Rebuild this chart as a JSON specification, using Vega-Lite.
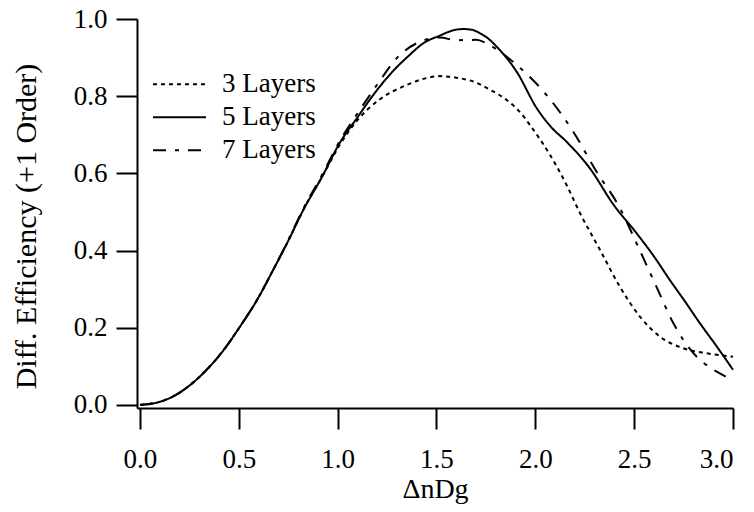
{
  "$schema": "https://vega.github.io/schema/vega-lite/v6.json",
  "width": 596,
  "height": 389,
  "autosize": {"type": "none"},
  "padding": {"left": 137, "top": 19, "right": 21, "bottom": 104},
  "background": "white",
  "config": {
    "view": {"stroke": null},
    "font": "Liberation Serif, Times New Roman, Times, DejaVu Serif, serif",
    "axis": {
      "grid": false,
      "domainColor": "black",
      "domainWidth": 2,
      "tickColor": "black",
      "tickWidth": 2,
      "tickSize": 21,
      "labelColor": "black",
      "labelFont": "Liberation Serif, Times New Roman, Times, DejaVu Serif, serif",
      "labelFontSize": 27,
      "titleColor": "black",
      "titleFont": "Liberation Serif, Times New Roman, Times, DejaVu Serif, serif",
      "titleFontWeight": "normal"
    }
  },
  "data": {
    "values": [
      {"s": "3 Layers", "x": 0, "y": 0},
      {"s": "3 Layers", "x": 0.1, "y": 0.008},
      {"s": "3 Layers", "x": 0.168, "y": 0.022},
      {"s": "3 Layers", "x": 0.25, "y": 0.05},
      {"s": "3 Layers", "x": 0.337, "y": 0.091},
      {"s": "3 Layers", "x": 0.42, "y": 0.14},
      {"s": "3 Layers", "x": 0.506, "y": 0.203},
      {"s": "3 Layers", "x": 0.59, "y": 0.27},
      {"s": "3 Layers", "x": 0.674, "y": 0.35},
      {"s": "3 Layers", "x": 0.75, "y": 0.425},
      {"s": "3 Layers", "x": 0.826, "y": 0.505},
      {"s": "3 Layers", "x": 0.92, "y": 0.59},
      {"s": "3 Layers", "x": 1.012, "y": 0.675},
      {"s": "3 Layers", "x": 1.1, "y": 0.738},
      {"s": "3 Layers", "x": 1.214, "y": 0.792},
      {"s": "3 Layers", "x": 1.349, "y": 0.829},
      {"s": "3 Layers", "x": 1.45, "y": 0.847},
      {"s": "3 Layers", "x": 1.517, "y": 0.852},
      {"s": "3 Layers", "x": 1.6, "y": 0.848},
      {"s": "3 Layers", "x": 1.686, "y": 0.838},
      {"s": "3 Layers", "x": 1.77, "y": 0.817},
      {"s": "3 Layers", "x": 1.855, "y": 0.79},
      {"s": "3 Layers", "x": 1.92, "y": 0.76},
      {"s": "3 Layers", "x": 1.973, "y": 0.725},
      {"s": "3 Layers", "x": 2.074, "y": 0.648},
      {"s": "3 Layers", "x": 2.158, "y": 0.57},
      {"s": "3 Layers", "x": 2.226, "y": 0.497},
      {"s": "3 Layers", "x": 2.327, "y": 0.402},
      {"s": "3 Layers", "x": 2.428, "y": 0.306},
      {"s": "3 Layers", "x": 2.529, "y": 0.229},
      {"s": "3 Layers", "x": 2.63, "y": 0.177},
      {"s": "3 Layers", "x": 2.748, "y": 0.147},
      {"s": "3 Layers", "x": 2.866, "y": 0.134},
      {"s": "3 Layers", "x": 3.0, "y": 0.125},

      {"s": "5 Layers", "x": 0, "y": 0},
      {"s": "5 Layers", "x": 0.1, "y": 0.008},
      {"s": "5 Layers", "x": 0.168, "y": 0.022},
      {"s": "5 Layers", "x": 0.25, "y": 0.05},
      {"s": "5 Layers", "x": 0.337, "y": 0.091},
      {"s": "5 Layers", "x": 0.42, "y": 0.14},
      {"s": "5 Layers", "x": 0.506, "y": 0.203},
      {"s": "5 Layers", "x": 0.59, "y": 0.27},
      {"s": "5 Layers", "x": 0.674, "y": 0.35},
      {"s": "5 Layers", "x": 0.75, "y": 0.425},
      {"s": "5 Layers", "x": 0.826, "y": 0.505},
      {"s": "5 Layers", "x": 0.92, "y": 0.59},
      {"s": "5 Layers", "x": 1.012, "y": 0.68},
      {"s": "5 Layers", "x": 1.1, "y": 0.745},
      {"s": "5 Layers", "x": 1.18, "y": 0.803},
      {"s": "5 Layers", "x": 1.28, "y": 0.865},
      {"s": "5 Layers", "x": 1.36, "y": 0.905},
      {"s": "5 Layers", "x": 1.433, "y": 0.937},
      {"s": "5 Layers", "x": 1.517, "y": 0.957},
      {"s": "5 Layers", "x": 1.58, "y": 0.97},
      {"s": "5 Layers", "x": 1.635, "y": 0.974},
      {"s": "5 Layers", "x": 1.68, "y": 0.972},
      {"s": "5 Layers", "x": 1.72, "y": 0.963},
      {"s": "5 Layers", "x": 1.76, "y": 0.95},
      {"s": "5 Layers", "x": 1.805, "y": 0.928},
      {"s": "5 Layers", "x": 1.906, "y": 0.863},
      {"s": "5 Layers", "x": 2.007, "y": 0.769},
      {"s": "5 Layers", "x": 2.08, "y": 0.72},
      {"s": "5 Layers", "x": 2.158, "y": 0.682},
      {"s": "5 Layers", "x": 2.276, "y": 0.613},
      {"s": "5 Layers", "x": 2.394, "y": 0.52},
      {"s": "5 Layers", "x": 2.512, "y": 0.445},
      {"s": "5 Layers", "x": 2.6, "y": 0.385},
      {"s": "5 Layers", "x": 2.68, "y": 0.324},
      {"s": "5 Layers", "x": 2.76, "y": 0.266},
      {"s": "5 Layers", "x": 2.832, "y": 0.212},
      {"s": "5 Layers", "x": 2.92, "y": 0.15},
      {"s": "5 Layers", "x": 3.0, "y": 0.091},

      {"s": "7 Layers", "x": 0, "y": 0},
      {"s": "7 Layers", "x": 0.1, "y": 0.008},
      {"s": "7 Layers", "x": 0.168, "y": 0.022},
      {"s": "7 Layers", "x": 0.25, "y": 0.05},
      {"s": "7 Layers", "x": 0.337, "y": 0.091},
      {"s": "7 Layers", "x": 0.42, "y": 0.14},
      {"s": "7 Layers", "x": 0.506, "y": 0.203},
      {"s": "7 Layers", "x": 0.59, "y": 0.27},
      {"s": "7 Layers", "x": 0.674, "y": 0.35},
      {"s": "7 Layers", "x": 0.75, "y": 0.427},
      {"s": "7 Layers", "x": 0.826, "y": 0.508},
      {"s": "7 Layers", "x": 0.92, "y": 0.595},
      {"s": "7 Layers", "x": 1.012, "y": 0.685},
      {"s": "7 Layers", "x": 1.1, "y": 0.755},
      {"s": "7 Layers", "x": 1.2, "y": 0.83},
      {"s": "7 Layers", "x": 1.298, "y": 0.898},
      {"s": "7 Layers", "x": 1.416, "y": 0.941},
      {"s": "7 Layers", "x": 1.517, "y": 0.952},
      {"s": "7 Layers", "x": 1.6, "y": 0.945},
      {"s": "7 Layers", "x": 1.7, "y": 0.946},
      {"s": "7 Layers", "x": 1.75, "y": 0.938},
      {"s": "7 Layers", "x": 1.796, "y": 0.924},
      {"s": "7 Layers", "x": 1.906, "y": 0.881},
      {"s": "7 Layers", "x": 2.057, "y": 0.803},
      {"s": "7 Layers", "x": 2.192, "y": 0.708},
      {"s": "7 Layers", "x": 2.31, "y": 0.604},
      {"s": "7 Layers", "x": 2.428, "y": 0.51},
      {"s": "7 Layers", "x": 2.512, "y": 0.419},
      {"s": "7 Layers", "x": 2.613, "y": 0.306},
      {"s": "7 Layers", "x": 2.698, "y": 0.212},
      {"s": "7 Layers", "x": 2.8, "y": 0.134},
      {"s": "7 Layers", "x": 2.918, "y": 0.086},
      {"s": "7 Layers", "x": 3.0, "y": 0.065}
    ]
  },
  "mark": {"type": "line", "color": "black", "strokeWidth": 2, "interpolate": "monotone"},
  "encoding": {
    "x": {
      "field": "x",
      "type": "quantitative",
      "scale": {"domain": [-0.015, 3], "nice": false, "zero": false},
      "axis": {
        "values": [0, 0.5, 1, 1.5, 2, 2.5, 3],
        "format": ".1f",
        "labelPadding": 17,
        "title": "ΔnDg",
        "titleFontSize": 28,
        "titlePadding": 3
      }
    },
    "y": {
      "field": "y",
      "type": "quantitative",
      "scale": {"domain": [-0.008, 1], "nice": false, "zero": false},
      "axis": {
        "values": [0, 0.2, 0.4, 0.6, 0.8, 1.0],
        "format": ".1f",
        "labelPadding": 9,
        "title": "Diff. Efficiency (+1 Order)",
        "titleFontSize": 30,
        "titlePadding": 32,
        "titleY": 207
      }
    },
    "strokeDash": {
      "field": "s",
      "type": "nominal",
      "scale": {
        "domain": ["3 Layers", "5 Layers", "7 Layers"],
        "range": [[4, 4], [1, 0], [13, 9, 4, 9]]
      },
      "legend": {
        "title": null,
        "orient": "none",
        "legendX": 15,
        "legendY": 49,
        "padding": 0,
        "symbolType": "stroke",
        "symbolSize": 2809,
        "symbolStrokeColor": "black",
        "symbolStrokeWidth": 2,
        "clipHeight": 32.5,
        "rowPadding": 0,
        "labelOffset": 15,
        "labelFont": "Liberation Serif, Times New Roman, Times, DejaVu Serif, serif",
        "labelFontSize": 27,
        "labelColor": "black"
      }
    }
  }
}
